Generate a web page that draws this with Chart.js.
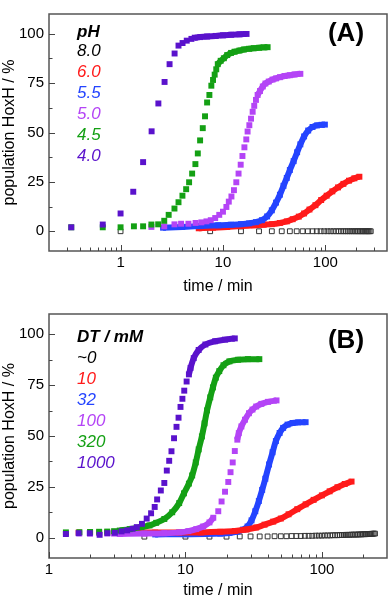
<!DOCTYPE html>
<html><head><meta charset="utf-8">
<script src="https://cdn.jsdelivr.net/npm/chart.js@4/dist/chart.umd.min.js"></script>
<style>
html,body{margin:0;padding:0;background:#fff;}
#wrap{position:relative;width:392px;height:600px;overflow:hidden;}
canvas{position:absolute;left:0;}
</style></head><body>
<div id="wrap">
<canvas id="ca" width="392" height="300" style="top:0"></canvas>
<canvas id="cb" width="392" height="300" style="top:300px"></canvas>
</div>
<script>
// ---------- tick labels ----------
const yTicks = [0, 25, 50, 75, 100];
const yMinorTicks = [12.5, 37.5, 62.5, 87.5];
const aXTicks = [1, 10, 100];
const aXMinorTicks = [0.3,0.4,0.5,0.6,0.7,0.8,0.9,2,3,4,5,6,7,8,9,20,30,40,50,60,70,80,90,200,300];
const bXTicks = [1, 10, 100];
const bXMinorTicks = [2,3,4,5,6,7,8,9,20,30,40,50,60,70,80,90,200];

// ---------- panel A : pH series ----------
const aLegendTitle = 'pH';
const aLegend = ['8.0', '6.0', '5.5', '5.0', '4.5', '4.0'];

const a80T = [1, 7.5, 15, 22.5, 30, 37.5, 45, 52.5, 60, 67.5, 75, 82.5, 90, 97.5, 105, 112.5, 120, 127.5, 135, 142.5, 150, 157.5, 165, 172.5, 180, 187.5, 195, 202.5, 210, 217.5, 225, 232.5, 240, 247.5, 255, 262.5, 270, 277.5];
const a80V = [0, 0, 0, 0, 0, 0, 0, 0, 0, 0, 0, 0, 0, 0, 0, 0, 0, 0, 0, 0, 0, 0, 0, 0, 0, 0, 0, 0, 0, 0, 0, 0, 0, 0, 0, 0, 0, 0];

const a60DenseT = [5.8, 8, 11, 15, 20, 25, 30, 36, 42, 48, 55, 62, 70, 80, 91, 103, 117, 133, 150, 170, 192, 215];
const a60DenseV = [1.5, 1.8, 2.2, 2.6, 3.0, 3.3, 3.6, 4.2, 5.0, 6.1, 7.4, 9.0, 11.0, 13.2, 15.8, 18.0, 20.2, 22.2, 24.0, 25.6, 26.8, 27.6];

const a55DenseT = [2.6, 4, 6, 9, 12, 15, 18, 21, 24, 27, 30, 33, 36, 39, 42, 45, 49, 53, 57, 62, 68, 75, 83, 92, 99];
const a55DenseV = [1.8, 2.2, 2.6, 3.0, 3.3, 3.6, 4.0, 4.6, 5.6, 7.5, 10.6, 14.5, 18.5, 23, 27, 31, 35.5, 40, 44, 48, 51, 52.8, 53.6, 53.9, 54];

const a50SparseT = [2.0, 2.67, 3.36, 3.9, 4.6, 5.4, 6.15, 6.9, 7.6, 8.4, 9.2, 10.0, 10.8, 11.4, 12.1, 12.8, 13.5, 14.2, 14.9, 15.5, 16.2, 16.9, 17.4, 18.1, 18.8, 19.5, 20.2, 21.0];
const a50SparseV = [2.2, 2.5, 3.5, 3.8, 3.8, 4.2, 4.5, 5.0, 5.6, 6.7, 8.3, 9.9, 12.3, 15.0, 17.6, 20.8, 24.8, 29.2, 33.7, 38.1, 42.5, 46.5, 50.5, 53.7, 57.0, 60.5, 63.5, 66.5];
const a50DenseT = [21.8, 23, 24.5, 26, 28, 30.5, 33, 36, 40, 45, 50, 57];
const a50DenseV = [69, 71, 73.3, 74.8, 75.8, 76.8, 77.4, 78, 78.6, 79, 79.4, 79.7];

const a45SparseT = [0.33, 0.67, 1.0, 1.35, 1.66, 2.0, 2.33, 2.67, 2.95, 3.36, 3.68, 4.02, 4.37, 4.67, 5.0, 5.38, 5.68, 5.98, 6.35, 6.68, 7.0, 7.37, 7.7, 8.0, 8.3, 8.6];
const a45SparseV = [2.0, 2.0, 2.0, 2.5, 2.5, 3.4, 3.5, 5.3, 8.3, 11.5, 14.7, 18.0, 21.3, 24.8, 29.2, 34.0, 39.4, 46.0, 52.2, 58.2, 65.2, 69.0, 73.7, 76.6, 79.3, 82.0];
const a45DenseT = [8.9, 9.5, 10.2, 11, 12, 13, 14.5, 16, 18, 20, 22.5, 25, 27.3];
const a45DenseV = [84.6, 86.3, 87.6, 89.2, 90.3, 90.9, 91.5, 92.0, 92.4, 92.7, 92.9, 93.1, 93.2];

const a40SparseT = [0.33, 0.67, 1.0, 1.33, 1.66, 2.01, 2.34, 2.69, 3.01, 3.37, 3.68, 4.03, 4.43, 4.92];
const a40SparseV = [2.0, 3.4, 9.0, 20.0, 35.0, 50.6, 64.7, 75.6, 84.6, 90.0, 94.0, 95.3, 96.5, 97.4];
const a40DenseT = [5.3, 6.0, 7.0, 8.5, 10, 12, 14.5, 17];
const a40DenseV = [98.0, 98.3, 98.6, 98.9, 99.2, 99.5, 99.7, 99.9];

// ---------- panel B : DT / mM series ----------
const bLegendTitle = 'DT / mM';
const bLegend = ['~0', '10', '32', '100', '320', '1000'];

const b0T = [5, 10, 15, 20, 25, 30, 35, 40, 45, 50, 55, 60, 65, 70, 75, 80, 85, 90, 95, 100, 105, 110, 115, 120, 125, 130, 135, 140, 145, 150, 155, 160, 165, 170, 175, 180, 185, 190, 195, 200, 205, 210, 215, 220, 225, 230, 235, 240, 245];
const b0V = [0.5, 0.5, 0.5, 0.5, 0.6, 0.6, 0.6, 0.6, 0.7, 0.7, 0.7, 0.8, 0.8, 0.8, 0.9, 0.9, 0.9, 1.0, 1.0, 1.0, 1.1, 1.1, 1.1, 1.2, 1.2, 1.2, 1.3, 1.3, 1.3, 1.4, 1.4, 1.4, 1.5, 1.5, 1.5, 1.5, 1.6, 1.6, 1.6, 1.7, 1.7, 1.7, 1.8, 1.8, 1.8, 1.9, 1.9, 2.0, 2.0];

const b10SparseT = [1.65, 2.0, 2.33, 2.67, 3.0, 3.33, 3.67];
const b10SparseV = [2.5, 2.6, 2.5, 2.6, 2.5, 2.6, 2.5];
const b10DenseT = [4, 6, 9, 13, 18, 23, 28, 33, 38, 44, 50, 57, 66, 76, 87, 100, 114, 130, 147, 165];
const b10DenseV = [2.5, 2.5, 2.5, 2.6, 2.9, 3.3, 4.0, 5.0, 6.4, 7.9, 9.4, 11.5, 14.0, 16.4, 18.6, 20.8, 22.8, 24.8, 26.4, 27.6];

const b32DenseT = [6, 10, 14, 18, 21, 24, 26.5, 28.5, 30.5, 32.5, 34.5, 36.5, 38.5, 41, 43.5, 46, 49, 52, 56, 61, 67, 76];
const b32DenseV = [1.6, 1.7, 1.8, 2.0, 2.3, 3.0, 4.0, 5.5, 8.5, 13, 18, 23.5, 29, 36, 42, 47.5, 51.5, 54, 55.6, 56.4, 56.7, 56.8];

const b100SparseT = [1.33, 1.67, 2.0, 2.33, 2.67, 3.0, 17.4, 18.4, 19.5, 20.6, 21.4, 22.2, 23.0];
const b100SparseV = [2.0, 2.1, 2.0, 2.2, 2.1, 2.0, 13.0, 17.8, 22.6, 27.4, 32.2, 37.0, 42.6];
const b100DenseLowT = [3.3, 5, 7, 9, 10.5, 12, 13.5, 15, 16];
const b100DenseLowV = [1.8, 2.0, 2.2, 2.6, 3.2, 4.2, 5.5, 7.5, 9.8];
const b100DenseHighT = [24, 24.6, 25.7, 27.3, 29.2, 31, 33, 36, 40.3, 46.5];
const b100DenseHighV = [48.2, 51.4, 54.7, 58, 61.2, 63, 64.5, 65.8, 66.8, 67.5];

const b320SparseT = [1.33, 1.67, 2.0, 2.33, 2.67, 3.0];
const b320SparseV = [2.6, 2.7, 2.8, 2.9, 3.0, 3.2];
const b320DenseT = [3.3, 3.9, 4.75, 5.45, 6.1, 7.0, 8.0, 9.0, 9.75, 10.6, 11.2, 11.9, 12.5, 13.2, 13.8, 14.4, 15.2, 15.9, 16.7, 17.7, 19, 21, 24.3, 28.7, 34.8];
const b320DenseV = [3.5, 4.2, 5.2, 6.0, 7.3, 9.2, 12.5, 17.0, 21.8, 26.6, 30.6, 37, 43.4, 49.8, 56.2, 62.6, 69, 73.9, 78.7, 81.9, 84.8, 86.7, 87.5, 87.8, 87.8];

const b1000SparseT = [1.33, 1.65, 1.99, 2.35, 2.68, 3.04, 3.4, 3.74, 4.1, 4.4, 4.8, 5.2, 5.6, 5.95, 6.2, 6.6, 7.0, 7.3, 7.6, 7.9, 8.25, 8.6, 8.9, 9.2, 9.5, 9.8, 10.2];
const b1000SparseV = [1.8, 2.2, 2.2, 1.4, 2.2, 2.4, 3.1, 3.6, 4.4, 5.2, 6.8, 9.4, 12, 15.1, 18.8, 23.2, 26.9, 33, 37.8, 42.5, 48.9, 54.5, 59, 64.3, 68.3, 72.3, 76.8];
const b1000DenseT = [10.6, 10.9, 11.5, 12.5, 14.0, 16.5, 19.5, 23];
const b1000DenseV = [80.3, 83.5, 88.3, 92.3, 95, 96.6, 97.4, 98];

// ---------- styling ----------
const FONT = '"Liberation Sans", Arial, Helvetica, sans-serif';
const C = { black:'#000000', red:'#ff1a1a', blue:'#2444ff', magenta:'#b444f6', green:'#14a014', purple:'#5a12cc' };
const seriesColors = [C.black, C.red, C.blue, C.magenta, C.green, C.purple];

function xy(T, V) { return T.map((t, i) => ({ x: t, y: V[i] })); }
function sparseSet(T, V, color) {
  return { data: xy(T, V), showLine: false, pointStyle: 'rect', pointRadius: 4.2,
           pointBackgroundColor: color, pointBorderColor: color, pointBorderWidth: 0 };
}
function denseSet(T, V, color) {
  return { data: xy(T, V), showLine: true, borderColor: color, borderWidth: 6,
           borderJoinStyle: 'round', cubicInterpolationMode: 'monotone',
           pointStyle: 'rect', pointRadius: 4.2, pointBackgroundColor: color,
           pointBorderColor: color, pointBorderWidth: 0 };
}
function openSet(T, V) {
  return { data: xy(T, V), showLine: false, pointStyle: 'rect', pointRadius: 3.4,
           pointBackgroundColor: 'rgba(255,255,255,0)', pointBorderColor: '#333', pointBorderWidth: 1 };
}

const decor = {
  id: 'decor',
  afterDraw(chart, args, o) {
    const { ctx, chartArea: a, scales: { x, y } } = chart;
    ctx.save();
    ctx.strokeStyle = '#555'; ctx.lineWidth = 1.5;
    ctx.strokeRect(a.left, a.top, a.right - a.left, a.bottom - a.top);
    ctx.strokeStyle = '#444'; ctx.lineWidth = 1;
    ctx.beginPath();
    const yt = (vals, len) => vals.forEach(v => { const p = Math.round(y.getPixelForValue(v)) + 0.5; ctx.moveTo(a.left, p); ctx.lineTo(a.left + len, p); });
    const xt = (vals, len) => vals.forEach(v => { const p = Math.round(x.getPixelForValue(v)) + 0.5; ctx.moveTo(p, a.bottom); ctx.lineTo(p, a.bottom - len); });
    yt(o.yMajor, 6); yt(o.yMinor, 3.5); xt(o.xMajor, 6); xt(o.xMinor, 3.5);
    ctx.stroke();
    ctx.textAlign = 'left'; ctx.textBaseline = 'middle';
    ctx.fillStyle = '#000';
    ctx.font = 'italic bold 17px ' + FONT;
    ctx.fillText(o.title, o.lx, o.ty);
    ctx.font = 'italic 17px ' + FONT;
    o.items.forEach((s, i) => { ctx.fillStyle = o.colors[i]; ctx.fillText(s, o.lx, o.y0 + i * o.dy); });
    ctx.fillStyle = '#000'; ctx.textAlign = 'center';
    ctx.font = 'bold 26px ' + FONT;
    ctx.fillText(o.panel, o.px, o.py);
    ctx.restore();
  }
};

function makeChart(id, cfg) {
  return new Chart(document.getElementById(id), {
    type: 'scatter',
    data: { datasets: cfg.datasets },
    options: {
      responsive: false, animation: false, events: [], devicePixelRatio: 1,
      layout: { padding: { left: 0, right: 2, top: cfg.padTop, bottom: 0 } },
      plugins: { legend: { display: false }, tooltip: { enabled: false }, decor: cfg.decor },
      scales: {
        x: {
          type: 'logarithmic', min: cfg.xMin, max: cfg.xMax,
          afterBuildTicks: ax => { ax.ticks = cfg.xTicks.map(v => ({ value: v })); },
          afterFit: s => { s.height = cfg.xAxisH; },
          grid: { display: false, drawTicks: false }, border: { display: false },
          ticks: { font: { family: FONT, size: 15 }, color: '#000', padding: 3, maxRotation: 0, autoSkip: false, callback: v => String(v) },
          title: { display: true, text: 'time / min', font: { family: FONT, size: 16 }, color: '#000', padding: { top: 0, bottom: cfg.xTitlePad } }
        },
        y: {
          type: 'linear', min: -10, max: 110,
          afterBuildTicks: ax => { ax.ticks = yTicks.map(v => ({ value: v })); },
          afterFit: s => { s.width = 49; },
          grid: { display: false, drawTicks: false }, border: { display: false },
          ticks: { font: { family: FONT, size: 15 }, color: '#000', padding: 5, callback: v => String(v) },
          title: { display: true, text: 'population HoxH / %', font: { family: FONT, size: 16 }, color: '#000', padding: { top: 0, bottom: 0 } }
        }
      }
    },
    plugins: [decor]
  });
}

makeChart('ca', {
  padTop: 2, xAxisH: 49, xTitlePad: 4, xMin: 0.2, xMax: 400, xTicks: aXTicks,
  datasets: [
    sparseSet(a40SparseT, a40SparseV, C.purple), denseSet(a40DenseT, a40DenseV, C.purple),
    sparseSet(a45SparseT, a45SparseV, C.green), denseSet(a45DenseT, a45DenseV, C.green),
    sparseSet(a50SparseT, a50SparseV, C.magenta), denseSet(a50DenseT, a50DenseV, C.magenta),
    denseSet(a55DenseT, a55DenseV, C.blue),
    denseSet(a60DenseT, a60DenseV, C.red),
    openSet(a80T, a80V)
  ],
  decor: { yMajor: yTicks, yMinor: yMinorTicks, xMajor: aXTicks, xMinor: aXMinorTicks,
           title: aLegendTitle, items: aLegend, colors: seriesColors,
           lx: 77, ty: 32, y0: 51.2, dy: 21.1, panel: '(A)', px: 346, py: 33.6 }
});

makeChart('cb', {
  padTop: 9, xAxisH: 42, xTitlePad: 0, xMin: 1, xMax: 300, xTicks: bXTicks,
  datasets: [
    sparseSet(b1000SparseT, b1000SparseV, C.purple), denseSet(b1000DenseT, b1000DenseV, C.purple),
    sparseSet(b320SparseT, b320SparseV, C.green), denseSet(b320DenseT, b320DenseV, C.green),
    sparseSet(b100SparseT, b100SparseV, C.magenta), denseSet(b100DenseLowT, b100DenseLowV, C.magenta), denseSet(b100DenseHighT, b100DenseHighV, C.magenta),
    sparseSet(b10SparseT, b10SparseV, C.red), denseSet(b10DenseT, b10DenseV, C.red),
    denseSet(b32DenseT, b32DenseV, C.blue),
    openSet(b0T, b0V)
  ],
  decor: { yMajor: yTicks, yMinor: yMinorTicks, xMajor: bXTicks, xMinor: bXMinorTicks,
           title: bLegendTitle, items: bLegend, colors: seriesColors,
           lx: 77, ty: 37.7, y0: 58.5, dy: 21, panel: '(B)', px: 346, py: 40.7 }
});
</script>
</body></html>
